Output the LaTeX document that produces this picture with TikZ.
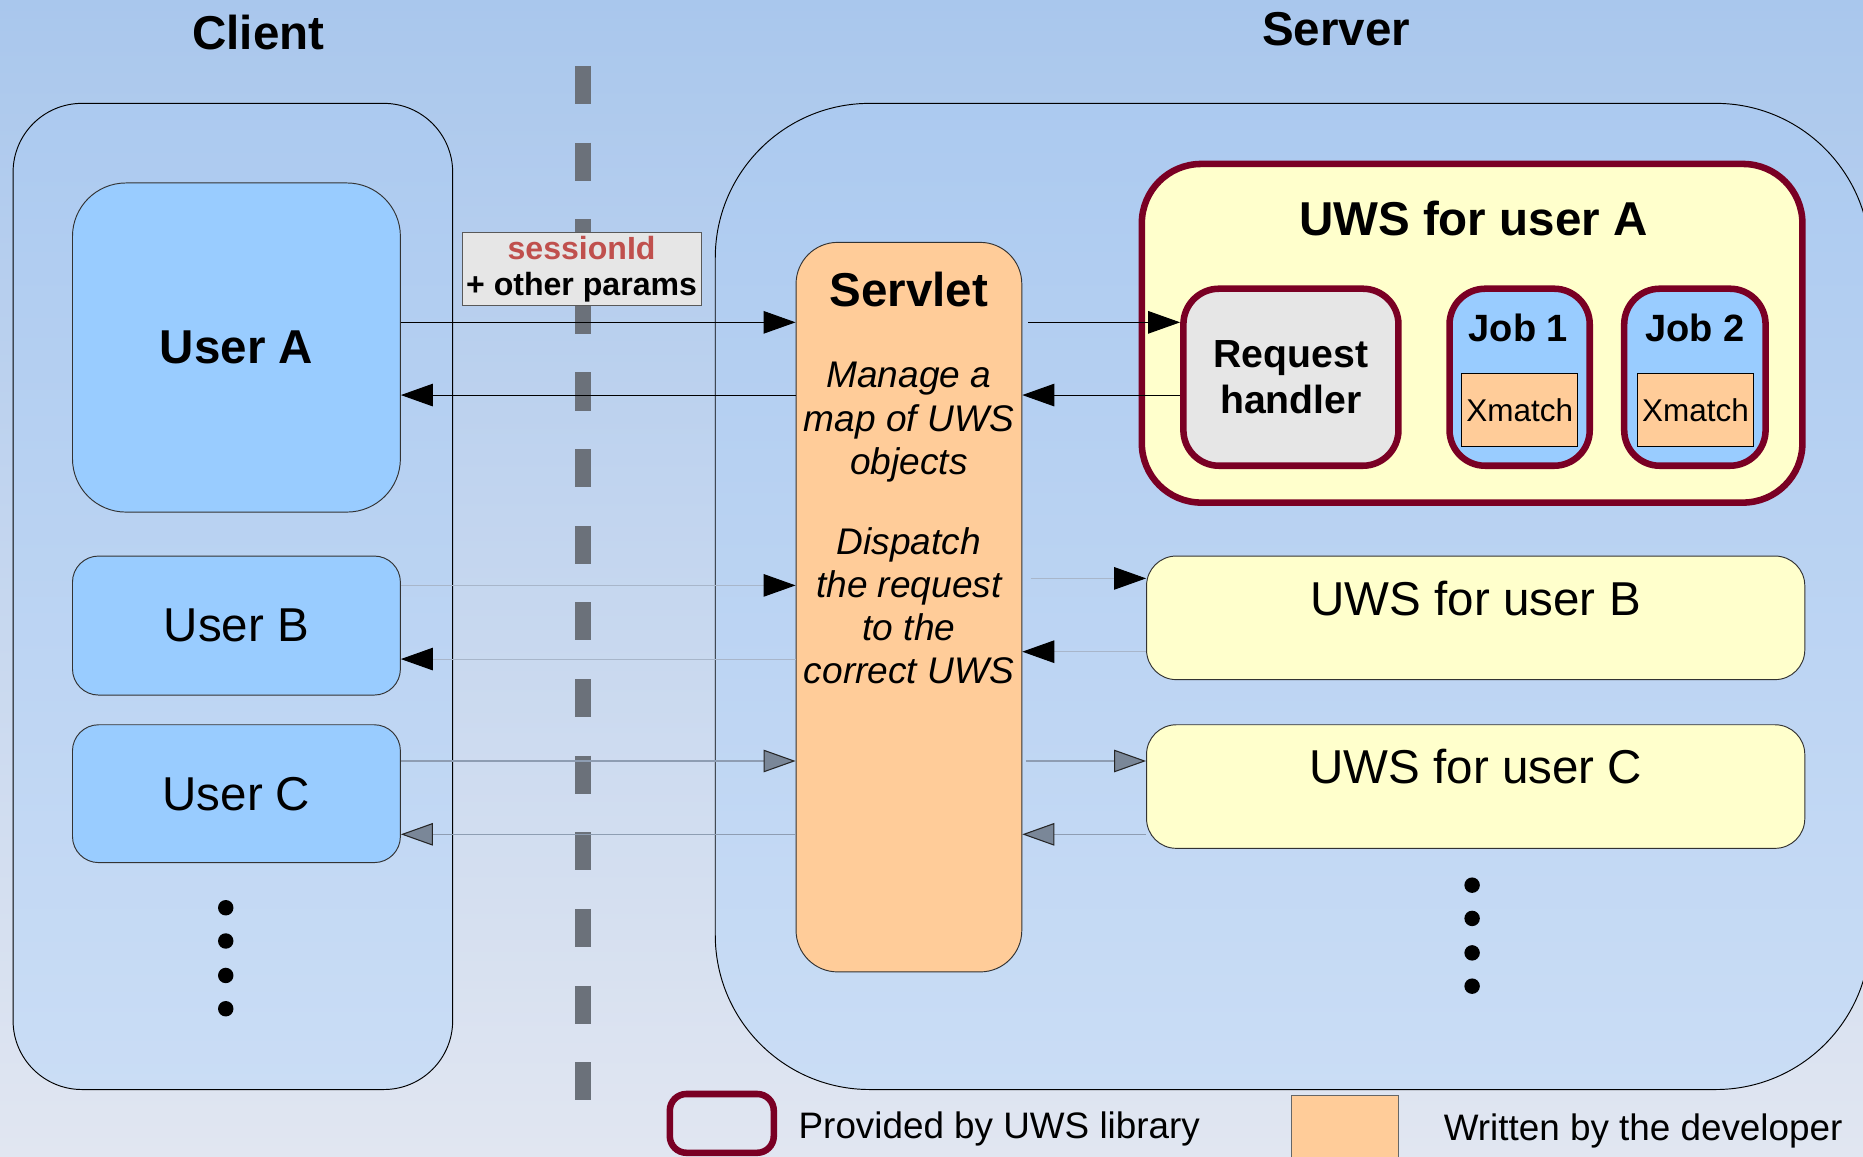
\documentclass[tikz,border=0pt]{standalone}
\usepackage{fontspec}
\setmainfont{Liberation Sans}
\usetikzlibrary{arrows.meta,positioning,calc}

\definecolor{bgTop}{HTML}{A9C7ED}
\definecolor{bgMid}{HTML}{D4E0F1}
\definecolor{bgBot}{HTML}{E1E6F1}
\definecolor{contTop}{HTML}{ACCAF0}
\definecolor{contBot}{HTML}{CADDF5}
\definecolor{userBlue}{HTML}{99CCFF}
\definecolor{devOrange}{HTML}{FFCC99}
\definecolor{uwsYellow}{HTML}{FFFFCC}
\definecolor{libRed}{HTML}{7A0024}
\definecolor{handlerGray}{HTML}{E6E6E6}
\definecolor{sessRed}{HTML}{C0504D}
\definecolor{sepGray}{HTML}{6B717A}
\definecolor{lineB}{HTML}{A8B6CA}
\definecolor{lineC}{HTML}{8E9DB2}
\definecolor{tipC}{HTML}{7A8798}

\begin{document}
\begin{tikzpicture}[x=1pt, y=-1pt,
  container/.style={draw=black, line width=0.8pt, top color=contTop, bottom color=contBot},
  box/.style={draw=black!80, line width=0.8pt, inner sep=0pt},
  libbox/.style={draw=libRed, line width=5.5pt, inner sep=0pt},
  txt/.style={inner sep=0pt},
  bigtext/.style={font=\fontsize{40}{46}\selectfont},
  bigbold/.style={font=\fontsize{40}{46}\selectfont\bfseries},
  legendtext/.style={font=\fontsize{31}{36}\selectfont, inner sep=0pt},
  dotmark/.style={circle, fill=black, inner sep=0pt, minimum size=13pt},
  sepline/.style={draw=sepGray, line width=13.5pt, dash pattern=on 32pt off 32.5pt},
  arr/.style={-{Triangle[length=27pt,width=19pt]}, line width=0.9pt},
  arrB/.style={-{Triangle[length=27pt,width=19pt,color=black]}, draw=lineB, line width=0.9pt},
  arrC/.style={-{Triangle[length=27pt,width=19pt,color=black!85,fill=tipC]}, draw=lineC, line width=0.9pt}
]
\useasboundingbox (0,0) rectangle (1568,973);
\shade[top color=bgTop, middle color=bgMid, bottom color=bgBot] (0,0) rectangle (1568,973);

% client / server areas
\node[container, rounded corners=58pt, minimum width=370pt, minimum height=830pt] (client) at (196,502) {};
\node[container, rounded corners=130pt, minimum width=972pt, minimum height=830pt] (server) at (1088,502) {};
\node[txt, bigbold, anchor=base] (clientTitle) at (217.5,41.5) {Client};
\node[txt, bigbold, anchor=base] (serverTitle) at (1124.5,38.7) {Server};

\coordinate (sepTop) at (491,55.5);
\coordinate (sepBot) at (491,926);
\draw[sepline] (sepTop) -- (sepBot);

% users
\node[box, fill=userBlue, rounded corners=45pt, minimum width=276pt, minimum height=277pt, bigbold] (userA) at (199,292.5) {User A};
\node[box, fill=userBlue, rounded corners=22pt, minimum width=276pt, minimum height=117pt, bigtext] (userB) at (199,526.5) {User B};
\node[box, fill=userBlue, rounded corners=22pt, minimum width=276pt, minimum height=116pt, bigtext] (userC) at (199,668) {User C};
\node[dotmark] (cdot1) at (190,764) {};
\node[dotmark] (cdot2) at (190,792) {};
\node[dotmark] (cdot3) at (190,821) {};
\node[dotmark] (cdot4) at (190,849) {};

\node[box, draw=black!65, fill=handlerGray, minimum width=201pt, minimum height=61pt, align=center,
  font=\fontsize{27}{30.5}\selectfont\bfseries] (params) at (489.5,226.5) {\textcolor{sessRed}{sessionId}\\+ other params};

% servlet
\node[box, fill=devOrange, rounded corners=35pt, minimum width=190pt, minimum height=614pt] (servlet) at (765,511) {};
\node[txt, bigbold, anchor=base] (servletTitle) at (765,257.6) {Servlet};
\node[txt, anchor=north, align=center, font=\fontsize{31.2}{36.3}\selectfont\itshape] (servletText) at (765,304.8)
  {Manage a\\map of UWS\\objects\\[31pt]Dispatch\\the request\\to the\\correct UWS};

% UWS of user A
\node[libbox, fill=uwsYellow, rounded corners=50pt, minimum width=556pt, minimum height=285pt] (uwsA) at (1239,280.5) {};
\node[txt, bigbold, anchor=base] (uwsATitle) at (1240,198) {UWS for user A};
\node[libbox, fill=handlerGray, rounded corners=30pt, minimum width=181pt, minimum height=149pt, align=center,
  font=\fontsize{33}{38}\selectfont\bfseries] (handler) at (1086.5,317.5) {Request\\handler};
\node[libbox, fill=userBlue, rounded corners=30pt, minimum width=118pt, minimum height=149pt] (job1) at (1279,317.5) {};
\node[txt, anchor=base, font=\fontsize{32}{38}\selectfont\bfseries] (job1Title) at (1278,287.6) {Job 1};
\node[box, draw=black, fill=devOrange, minimum width=98pt, minimum height=62pt, font=\fontsize{26.5}{30}\selectfont] (xmatch1) at (1279,345) {Xmatch};
\node[libbox, fill=userBlue, rounded corners=30pt, minimum width=119pt, minimum height=149pt] (job2) at (1426.5,317.5) {};
\node[txt, anchor=base, font=\fontsize{32}{38}\selectfont\bfseries] (job2Title) at (1426.5,287.6) {Job 2};
\node[box, draw=black, fill=devOrange, minimum width=98pt, minimum height=62pt, font=\fontsize{26.5}{30}\selectfont] (xmatch2) at (1427,345) {Xmatch};

% other UWS
\node[box, fill=uwsYellow, rounded corners=25pt, minimum width=554pt, minimum height=104pt] (uwsB) at (1242,520) {};
\node[txt, bigtext, anchor=base] (uwsBTitle) at (1242,518) {UWS for user B};
\node[box, fill=uwsYellow, rounded corners=25pt, minimum width=554pt, minimum height=104pt] (uwsC) at (1242,662) {};
\node[txt, bigtext, anchor=base] (uwsCTitle) at (1242,659.5) {UWS for user C};
\node[dotmark] (sdot1) at (1239,745) {};
\node[dotmark] (sdot2) at (1239,773) {};
\node[dotmark] (sdot3) at (1239,802) {};
\node[dotmark] (sdot4) at (1239,830) {};

% requests
\draw[arr] (userA.east |- 0,271.3) -- (servlet.west |- 0,271.3);
\draw[arr] (servlet.west |- 0,332.5) -- (userA.east |- 0,332.5);
\draw[arr, shorten <=5pt] (servlet.east |- 0,271.3) -- (handler.west |- 0,271.3);
\draw[arr] (handler.west |- 0,332.5) -- (servlet.east |- 0,332.5);
\draw[arrB] (userB.east |- 0,492.7) -- (servlet.west |- 0,492.7);
\draw[arrB] (servlet.west |- 0,554.7) -- (userB.east |- 0,554.7);
\draw[arrB, shorten <=7pt] (servlet.east |- 0,486.8) -- (uwsB.west |- 0,486.8);
\draw[arrB] (uwsB.west |- 0,548.5) -- (servlet.east |- 0,548.5);
\draw[arrC] (userC.east |- 0,640.5) -- (servlet.west |- 0,640.5);
\draw[arrC] (servlet.west |- 0,702.2) -- (userC.east |- 0,702.2);
\draw[arrC, shorten <=3pt] (servlet.east |- 0,640.5) -- (uwsC.west |- 0,640.5);
\draw[arrC] (uwsC.west |- 0,702.2) -- (servlet.east |- 0,702.2);

% legend
\node[libbox, rounded corners=14pt, minimum width=87.5pt, minimum height=49.5pt] (legendLib) at (607.5,945.5) {};
\node[legendtext, anchor=base west] (legendLibText) at (672,958) {Provided by UWS library};
\node[box, draw=black!60, fill=devOrange, minimum width=90pt, minimum height=60pt] (legendDev) at (1132,952) {};
\node[legendtext, anchor=base west] (legendDevText) at (1215,959.5) {Written by the developer};
\end{tikzpicture}
\end{document}
